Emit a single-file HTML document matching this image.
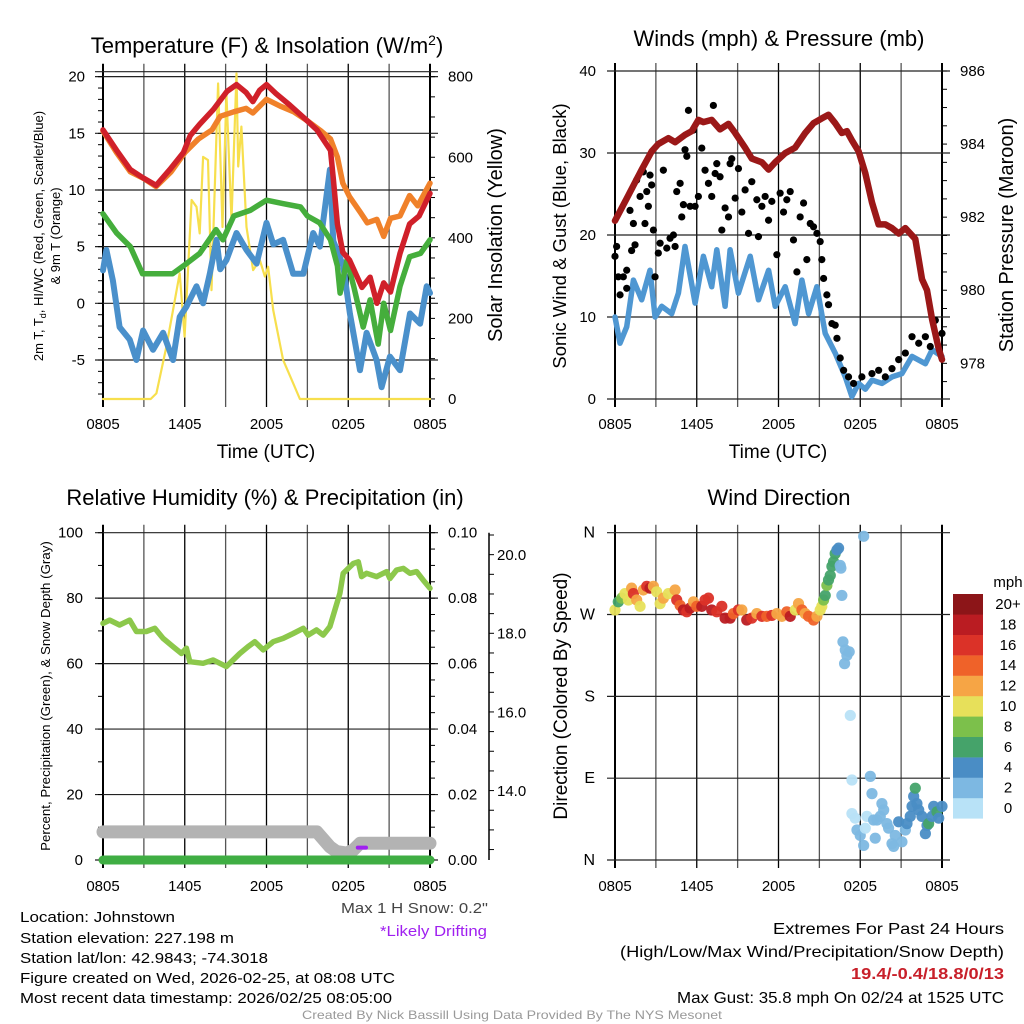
<!DOCTYPE html>
<html><head><meta charset="utf-8"><style>
html,body{margin:0;padding:0;background:#fff;}
svg{display:block;font-family:"Liberation Sans",Arial,sans-serif;}
</style></head><body>
<svg id="chart" width="1024" height="1024" viewBox="0 0 1024 1024" xmlns="http://www.w3.org/2000/svg">
<rect width="1024" height="1024" fill="#fff"/>
<text x="267" y="53" font-size="22" text-anchor="middle">Temperature (F) &amp; Insolation (W/m<tspan dy="-8" font-size="14">2</tspan><tspan dy="8">)</tspan></text>
<text x="779" y="46" font-size="22" text-anchor="middle">Winds (mph) &amp; Pressure (mb)</text>
<text x="265" y="505" font-size="22" text-anchor="middle">Relative Humidity (%) &amp; Precipitation (in)</text>
<text x="779" y="505" font-size="22" text-anchor="middle">Wind Direction</text>

<text transform="translate(43,236) rotate(-90)" font-size="13" text-anchor="middle">2m T, T<tspan dy="3" font-size="9">d</tspan><tspan dy="-3">, HI/WC (Red, Green, Scarlet/Blue)</tspan></text>
<text transform="translate(60,236) rotate(-90)" font-size="13" text-anchor="middle">&amp; 9m T (Orange)</text>
<text transform="translate(502,235) rotate(-90)" font-size="20" text-anchor="middle">Solar Insolation (Yellow)</text>
<text transform="translate(566,236) rotate(-90)" font-size="18.5" text-anchor="middle">Sonic Wind &amp; Gust (Blue, Black)</text>
<text transform="translate(1013,235) rotate(-90)" font-size="20" text-anchor="middle">Station Pressure (Maroon)</text>
<text transform="translate(50,696) rotate(-90)" font-size="13.3" text-anchor="middle">Percent, Precipitation (Green), &amp; Snow Depth (Gray)</text>
<text transform="translate(567,696) rotate(-90)" font-size="19" text-anchor="middle">Direction (Colored By Speed)</text>
<text x="266" y="458" font-size="19" text-anchor="middle">Time (UTC)</text>
<text x="778" y="458" font-size="19" text-anchor="middle">Time (UTC)</text>

<g font-size="15">
<text x="20" y="922" textLength="155" lengthAdjust="spacingAndGlyphs">Location: Johnstown</text>
<text x="20" y="943" textLength="214" lengthAdjust="spacingAndGlyphs">Station elevation: 227.198 m</text>
<text x="20" y="963" textLength="248" lengthAdjust="spacingAndGlyphs">Station lat/lon: 42.9843; -74.3018</text>
<text x="20" y="983" textLength="375" lengthAdjust="spacingAndGlyphs">Figure created on Wed, 2026-02-25, at 08:08 UTC</text>
<text x="20" y="1003" textLength="372" lengthAdjust="spacingAndGlyphs">Most recent data timestamp: 2026/02/25 08:05:00</text>
</g>
<text x="341" y="913" font-size="15" fill="#444" textLength="147" lengthAdjust="spacingAndGlyphs">Max 1 H Snow: 0.2"</text>
<text x="380" y="936" font-size="15" fill="#a020f0" textLength="107" lengthAdjust="spacingAndGlyphs">*Likely Drifting</text>
<text x="773" y="934" font-size="16" textLength="231" lengthAdjust="spacingAndGlyphs">Extremes For Past 24 Hours</text>
<text x="620" y="957" font-size="16" textLength="384" lengthAdjust="spacingAndGlyphs">(High/Low/Max Wind/Precipitation/Snow Depth)</text>
<text x="851" y="979" font-size="16" font-weight="bold" fill="#c8202a" textLength="153" lengthAdjust="spacingAndGlyphs">19.4/-0.4/18.8/0/13</text>
<text x="677" y="1003" font-size="16" textLength="327" lengthAdjust="spacingAndGlyphs">Max Gust: 35.8 mph On 02/24 at 1525 UTC</text>
<text x="302" y="1019" font-size="12" fill="#999" textLength="420" lengthAdjust="spacingAndGlyphs">Created By Nick Bassill Using Data Provided By The NYS Mesonet</text>
</svg>
<script>
// ===== data (hours since 0805 UTC) =====
const timeTickLabels = ['0805','1405','2005','0205','0805'];
const tempT = [0,1,2,2.9,3.9,4.9,5.9,6.4,7.1,8.1,9.1,9.8,10.5,11,11.5,12,12.7,13.7,14.9,15.7,16.7,16.9,17.2,17.6,18.1,19,19.6,20.1,20.6,21.1,21.8,22.5,23.2,24];
const tempV = [15.3,13.5,11.8,11.1,10.4,11.8,13.3,14.8,15.8,17.1,18.7,19.3,18.6,17.8,18.8,19.3,18.5,17.5,16.2,15.3,13.5,11,7,4.5,3.8,1.4,2.3,0,1.8,1,4.4,7,7.7,9.7];
const t9T = [0,1,2,3,3.9,5,6,7,8,8.6,9.6,10.5,11,12,13,14,15,16,16.7,17.2,17.6,18.1,18.9,19.4,20.1,20.6,21.1,21.8,22.5,23.1,24];
const t9V = [15.2,13.3,11.6,11,10.3,11.6,13.3,14.5,15.3,16.5,16.9,17.2,16.8,18,17.4,16.9,16.1,15.2,14.5,12.9,10.6,9.4,8,7.1,7.4,5.9,7.5,7.7,9.5,8.6,10.6];
const hiT = [0,1,2,2.9,3.9,5.1,5.9,7.1,8.3,8.8,9.6,10.8,12,13.2,14.5,15,15.9,16.7,17.2,17.4,17.9,18.4,19.1,19.6,20.2,20.6,21.1,21.8,22.5,23.3,24];
const hiV = [7.9,6.2,5,2.6,2.6,2.6,3.3,4.4,6.5,5.6,7.7,8.2,9.1,8.8,8.5,7.7,7.1,5.6,3.3,0.9,3.8,1.5,-2.1,0.3,-3.6,0,-2.4,1.5,4.1,4.4,5.6];
const dewT = [0,0.25,0.73,1.22,1.96,2.45,2.94,3.67,4.41,5.14,5.63,6.12,6.86,7.35,7.84,8.33,8.6,9.06,9.8,10.53,11.27,12,12.5,13.22,13.96,14.7,15.43,15.92,16.65,16.9,17.63,18.12,18.86,19.35,20.08,20.45,21.06,21.8,22.53,23.27,23.76,24];
const dewV = [2.9,4.7,2,-2.1,-3.2,-5,-2.4,-4.1,-2.6,-5,-1.2,-0.3,1.5,0,2.6,5.6,3,3.8,6.2,4.7,3.5,7.1,5.2,5.6,2.6,2.6,6.2,5,11.8,5.5,3.3,-0.9,-5.9,-2.6,-5,-7.4,-4.7,-5.9,-0.9,-1.8,1.5,0.9];
const solarT = [0,3.5,3.92,4.65,5.63,5.99,6.5,6.86,7.1,7.35,7.71,7.96,8.45,8.77,9.06,9.43,9.8,9.92,10.16,10.53,11.02,11.51,11.88,12.12,12.49,13.22,13.96,14.45,24];
const solarV = [0,0,14,130,312,155,494,477,411,601,593,270,783,427,758,444,808,577,676,427,320,345,304,328,221,97,39,0,0];
const tempTicks = [-5,0,5,10,15,20];
const solarTicks = [0,200,400,600,800];

const windT = [0,0.37,0.86,1.35,1.96,2.57,2.94,3.43,4.16,4.65,5.14,5.88,6.49,7.1,7.47,8.08,8.45,9.06,9.92,10.53,11.27,11.76,12.49,13.22,13.72,14.21,14.82,15.43,16.16,16.9,17.39,17.88,18.37,18.86,19.59,20.33,21.06,21.8,22.78,23.27,24];
const windV = [10,6.8,8.8,14.5,12.1,15.7,10,11.3,10.4,12.9,18.6,11.7,17.4,13.7,18.2,11.3,18.2,12.9,17.4,12.1,15.7,11.3,13.7,9.2,14.5,10.4,13.7,8,5.6,2.7,0.3,1.9,1.2,2.3,1.9,2.7,3.1,5.2,4.3,6,5.2];
const gustT = [0,.12,.24,.37,.61,.86,.86,1.1,1.22,1.35,1.47,1.59,1.84,2.08,2.2,2.33,2.45,2.57,2.69,2.82,2.94,3.18,3.31,3.55,3.8,4.04,4.29,4.41,4.53,4.78,4.9,5.02,5.14,5.27,5.39,5.51,5.76,5.88,6.12,6.37,6.61,6.86,7.1,7.22,7.35,7.47,7.71,7.84,8.08,8.33,8.45,8.57,8.82,9.06,9.31,9.55,9.8,10.04,10.41,10.53,10.78,11.02,11.27,11.51,11.88,12.12,12.37,12.61,12.86,13.1,13.35,13.59,13.84,14.08,14.33,14.57,14.82,15.06,15.18,15.31,15.55,15.67,15.92,16.16,16.29,16.53,16.78,17.14,17.51,18.12,18.86,19.35,19.84,20.33,20.82,21.31,21.8,22.29,22.78,23.14,23.51,23.76,24];
const gustV = [17.4,18.6,14.9,12.7,14.9,15.7,13.5,23,18.1,21.4,18.8,26.7,24.7,27.7,21.4,25.3,23.5,27.3,26.1,20.6,14.9,17.8,19,27.9,18.4,19.6,20,18.6,25.3,26.3,22.2,23.7,30.4,29.6,35.2,23.5,32.8,23.5,24.7,30.6,27.9,26.3,24.7,35.8,27.5,28.7,27.1,20.6,23.3,22.2,28.7,29.3,24.5,28.1,22.8,25.5,20.2,26.5,24.3,19.8,23.5,24.7,21.8,24.1,17.6,25.1,22.8,24.3,25.3,19.4,15.5,22.2,23.9,17,21.4,21,20.2,19.2,17,14.7,12.7,11.5,9.2,9,7.4,5,3.5,2.7,1.9,2.7,3.1,3.5,2.7,3.7,4.8,5.6,7.6,6.8,7.6,6.4,9.6,6.4,8];
const presT = [0,.98,1.96,2.69,3.18,3.92,4.41,5.14,5.63,6.12,6.49,7.1,7.71,8.33,8.82,9.55,10.04,10.78,11.27,11.76,12.49,13.22,13.96,14.57,15.18,15.67,16.16,16.65,17.02,17.39,17.88,18.37,18.86,19.35,19.84,20.33,20.82,21.31,22.04,22.53,22.9,23.27,23.76,24];
const presV = [981.9,982.6,983.3,983.8,984,984.16,984.05,984.25,984.35,984.66,984.6,984.66,984.4,984.55,984.3,983.9,983.6,983.5,983.3,983.5,983.75,983.9,984.3,984.57,984.7,984.8,984.57,984.3,984.35,984.1,983.8,983.2,982.4,981.8,981.8,981.7,981.55,981.7,981.4,980.3,980,979.2,978.4,978.1];
const windTicks = [0,10,20,30,40];
const presTicks = [978,980,982,984,986];

const rhT = [0,.49,1.22,1.96,2.45,3.18,3.8,4.41,5.14,5.76,6.12,6.37,7.35,8.08,8.57,9.06,9.55,10.04,10.65,11.14,11.76,12.49,13.22,13.96,14.7,15.06,15.67,16.16,16.65,17.02,17.39,17.63,18.37,18.74,18.98,19.35,20.08,20.82,21.06,21.55,22.04,22.53,23.02,23.51,24];
const rhV = [72.3,73.3,71.8,73.3,69.8,69.8,70.8,67.7,65.2,63.1,64.7,60.6,60.1,61.1,60.1,59.1,61.1,63.1,65.2,66.7,64.2,66.7,67.7,69.2,70.8,68.7,70.3,68.7,71.3,76.4,81.5,87.6,90.6,91.1,86.6,87.6,86.6,88.1,86,88.6,89.1,87.6,88.1,85.5,83];
const precipT = [0,24];
const precipV = [0,0];
const snowT = [0,14.5,15.7,15.9,16.65,17.14,17.88,18.37,18.86,24];
const snowV = [12.96,12.96,12.96,12.88,12.58,12.46,12.42,12.5,12.67,12.67];
const driftT = [18.7,19.3];
const driftV = [12.56,12.56];
const rhTicks = [0,20,40,60,80,100];
const precipTicks = ['0.00','0.02','0.04','0.06','0.08','0.10'];
const snowTicks = ['14.0','16.0','18.0','20.0'];

const dirT = [0,.24,.49,.73,.98,1.22,1.35,1.59,1.84,2.08,2.33,2.57,2.82,3.06,3.31,3.55,3.92,4.41,4.53,4.78,5.02,5.27,5.51,5.76,6,6.37,6.61,6.86,7.1,7.47,7.84,8.08,8.45,8.69,9.06,9.31,9.67,10.04,10.41,10.78,11.14,11.51,11.88,12.25,12.61,12.86,13.23,13.47,13.72,13.96,14.21,14.57,14.82,15.06,15.18,15.31,15.43,15.55,15.67,15.8,15.92,16.04,16.16,16.29,16.41,16.53,16.58,16.65,16.73,16.9,17.02,17.19,16.85,17.27,17.39,18.25,17.39,17.63,17.76,18,18.25,18.37,18.49,18.74,18.86,18.98,19.1,19.23,19.47,19.59,19.72,19.96,20.08,20.33,20.45,20.57,20.82,21.06,21.31,21.43,21.67,21.8,21.92,22.04,22.16,22.29,22.53,22.78,22.9,23.02,23.27,23.39,23.63,23.76,24];
const dirV = [275,284,288,293,286,299,293,286,279,297,301,299,301,295,282,288,293,297,286,280,275,273,277,284,279,279,286,288,275,273,279,266,266,271,275,275,264,266,271,268,268,269,271,268,273,268,275,282,275,271,268,264,268,275,279,286,291,302,308,313,323,328,337,341,343,324,321,291,240,231,225,229,216,159,88,356,51,46,33,27,16,35,48,92,73,44,24,44,48,62,55,40,35,18,15,27,42,20,33,40,48,59,70,79,62,55,48,29,38,40,48,59,53,46,59];
const dirSpd = [10,6,8,10,10,12,16,12,10,12,16,18,12,10,10,12,10,12,16,14,18,16,18,12,14,18,16,16,18,16,16,18,18,14,16,12,18,16,12,16,14,16,12,12,14,18,10,12,14,12,14,14,12,10,10,8,6,8,6,6,6,6,6,4,4,2,2,2,2,2,2,2,2,0,0,2,0,0,2,2,2,0,0,2,2,2,2,2,2,2,2,2,2,2,2,2,4,2,2,4,4,4,4,6,4,4,4,4,4,6,4,4,6,4,4];
const dirTickLabels = ['N','E','S','W','N'];
const legendLabels = ['0','2','4','6','8','10','12','14','16','18','20+'];
const legendColors = ['#b8e2f7','#7db8e2','#4a8dc5','#45a36a','#7cc04b','#e7e05a','#f6a545','#ef6229','#db3228','#ba1c22','#8c1518'];

// ===== drawing =====
const NS='http://www.w3.org/2000/svg';
const svg=document.getElementById('chart');
function mk(tag,attrs,parent){const e=document.createElementNS(NS,tag);for(const k in attrs)e.setAttribute(k,attrs[k]);(parent||svg).appendChild(e);return e;}
function xAxisFn(x0,x1){return t=>x0+t/24*(x1-x0);}
function linPath(ts,vs,xf,yf){return ts.map((t,i)=>(i?'L':'M')+xf(t).toFixed(1)+','+yf(vs[i]).toFixed(1)).join('');}

function frame(name,x0,x1,top,bot,hLines,labelY){
  const g=mk('g',{});
  
  
  const xf=xAxisFn(x0,x1);
  for(let h=0;h<=24;h+=3){
    const ln=mk('line',{x1:xf(h),x2:xf(h),y1:top-8,y2:bot+8,stroke:(h%6===0)?'#000':'#555','stroke-width':(h===0||h===24)?2:1.3},g);
    
    
  }
  hLines.forEach(y=>{
    const ln=mk('line',{x1:x0-8,x2:x1+8,y1:y,y2:y,stroke:'#222','stroke-width':1.2},g);
    
    
  });
  timeTickLabels.forEach((lab,i)=>{
    const tx=mk('text',{x:xf(i*6),y:labelY,'font-size':15,'text-anchor':'middle'},g);
    tx.textContent=lab;
    
    
  });
  return xf;
}
function ylab(txt,x,y,anchor,name,size){
  const t=mk('text',{x:x,y:y+5,'font-size':size||15,'text-anchor':anchor});
  t.textContent=txt;
  
  
}
function minorTicks(x,y0,y1,step,dir,name){
  for(let y=y0;y<=y1+0.1;y+=step){
    const l=mk('line',{x1:x,x2:x+dir*5,y1:y,y2:y,stroke:'#000','stroke-width':1});
    
    
  }
}
function series(d,color,w,name){
  const p=mk('path',{d:d,fill:'none',stroke:color,'stroke-width':w,'stroke-linejoin':'round','stroke-linecap':'round'});
  
  
}

// Panel 1: temperature
{
  const yT=v=>303.3-v*11.333, yS=v=>399-v*0.4029;
  const hl=tempTicks.map(yT).concat([71.7]);
  const xf=frame('temp',103,430,71.7,399,hl,429);
  tempTicks.forEach(v=>ylab(String(v),85,yT(v),'end','temp-y-tick-label'));
  solarTicks.forEach(v=>ylab(String(v),448,yS(v),'start','solar-y-tick-label'));
  minorTicks(430,76.7,399,20.14,1,'solar-minor-tick');
  minorTicks(103,76.7,399,11.333,-1,'temp-minor-tick');
  series(linPath(solarT,solarV,xf,yS),'#f7df4d',2.2,'solar-line');
  series(linPath(dewT,dewV,xf,yT),'#4a90cb',6,'dewpoint-line');
  series(linPath(hiT,hiV,xf,yT),'#45ae3c',5.5,'dewpoint-green-line');
  series(linPath(t9T,t9V,xf,yT),'#f0812a',5.5,'temp-9m-line');
  series(linPath(tempT,tempV,xf,yT),'#d0202a',5.5,'temp-2m-line');
}
// Panel 2: wind & pressure
{
  const yW=v=>399-v*8.2, yP=v=>363.3-(v-978)*36.55;
  const xf=frame('wind',615,942,71,399,windTicks.map(yW),429);
  windTicks.forEach(v=>ylab(String(v),596,yW(v),'end','wind-y-tick-label'));
  presTicks.forEach(v=>ylab(String(v),960,yP(v),'start','pressure-y-tick-label'));
  minorTicks(942,71,399,18.27,1,'pressure-minor-tick');
  series(linPath(windT,windV,xf,yW),'#4f97d2',5.5,'sonic-wind-line');
  gustT.forEach((t,i)=>{
    const c=mk('circle',{cx:xf(t),cy:yW(gustV[i]),r:3.6,fill:'#000'});
    
    
  });
  series(linPath(presT,presV,xf,yP),'#9b1818',6.5,'pressure-line');
}
// Panel 3: RH & precip
{
  const yR=v=>860-v*3.273, yPr=v=>860-v*3273, ySn=v=>555+(20-v)*39.33;
  const xf=frame('rh',103,430,532.7,860,rhTicks.map(yR),891);
  rhTicks.forEach(v=>ylab(String(v),83,yR(v),'end','rh-y-tick-label'));
  precipTicks.forEach(v=>ylab(v,448,yPr(parseFloat(v)),'start','precip-y-tick-label'));
  minorTicks(430,532.7,860,16.36,1,'precip-minor-tick');
  minorTicks(103,532.7,860,32.73,-1,'rh-minor-tick');
  const ax=mk('line',{x1:489,x2:489,y1:532.7,y2:860,stroke:'#000','stroke-width':1.5});
  
  
  minorTicks(489,535,860,19.66,1,'snow-minor-tick');
  snowTicks.forEach(v=>ylab(v,497,ySn(parseFloat(v)),'start','snow-y-tick-label'));
  series(linPath(snowT,snowV,xf,ySn),'#b3b3b3',13,'snow-depth-line');
  series(linPath(driftT,driftV,xf,ySn),'#a020f0',4,'drifting-line');
  series(linPath(precipT,precipV,xf,yPr),'#3fae43',9,'precip-line');
  series(linPath(rhT,rhV,xf,yR),'#8cc84b',5.5,'rh-line');
}
// Panel 4: wind direction
{
  const yD=v=>860-v*(327.3/360);
  const xf=frame('dir',615,942,532.7,860,[0,90,180,270,360].map(yD),891);
  dirTickLabels.forEach((l,i)=>ylab(l,595,yD(i*90),'end','direction-tick-label',16));
  const colorFor=s=>legendColors[Math.min(10,Math.max(0,Math.floor(s/2)))];
  dirT.forEach((t,i)=>{
    const c=mk('circle',{cx:xf(t),cy:yD(dirV[i]),r:5.6,fill:colorFor(dirSpd[i]),'fill-opacity':0.95});
    
    
  });
  const lg=mk('g',{});
  
  
  const mph=mk('text',{x:1008,y:587,'font-size':15,'text-anchor':'middle'},lg);
  mph.textContent='mph';
  
  
  legendLabels.forEach((lab,i)=>{
    const y=798-i*20.4;
    const r=mk('rect',{x:953,y:y,width:30,height:20.6,fill:legendColors[i]},lg);
    
    
    const tx=mk('text',{x:1008,y:y+15,'font-size':15,'text-anchor':'middle'},lg);
    tx.textContent=lab;
    
    
  });
}
</script>
</body></html>
